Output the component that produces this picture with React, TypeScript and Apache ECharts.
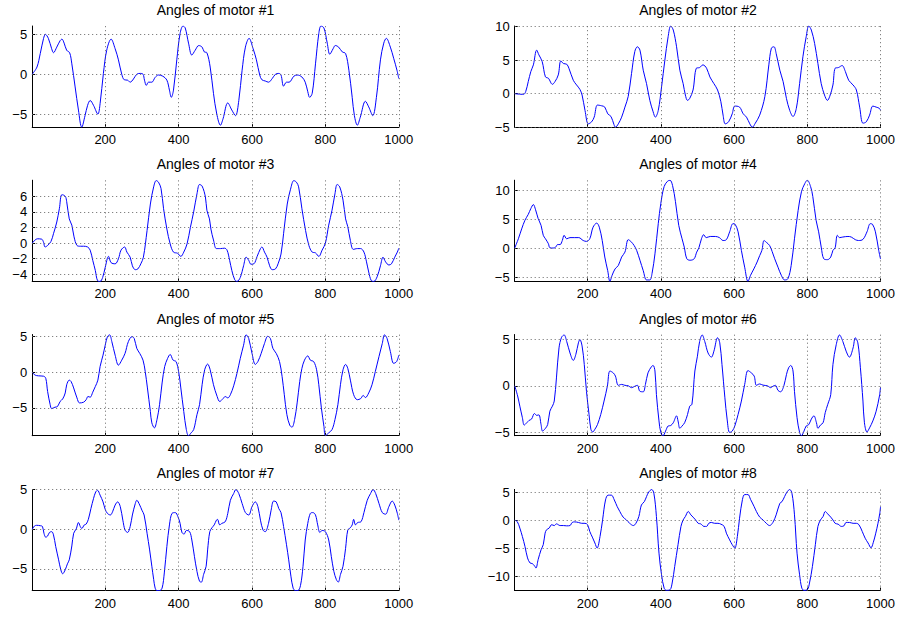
import React, { useEffect, useRef } from "react";
import * as echarts from "echarts";

const titles = [
  "Angles of motor #1", "Angles of motor #2", "Angles of motor #3", "Angles of motor #4",
  "Angles of motor #5", "Angles of motor #6", "Angles of motor #7", "Angles of motor #8",
];

const xTicks = [200, 400, 600, 800, 1000];

const yTicks = [
  [-5, 0, 5], [-5, 0, 5, 10], [-4, -2, 0, 2, 4, 6], [-5, 0, 5, 10],
  [-5, 0, 5], [-5, 0, 5], [-5, 0, 5], [-10, -5, 0, 5],
];

const yMin = [-6.65, -5.0, -4.9, -5.75, -8.9, -5.4, -7.72, -12.5];
const yMax = [6.05, 10.1, 8.05, 11.7, 5.3, 5.55, 5.02, 5.47];

const motor1 = [[1,0],[14,0.9],[23,2.6],[32,4.5],[37,5.0],[45,4.5],[54,3.2],[59,2.7],[68,3.4],[77,4.2],[82,4.4],[88,3.9],[95,3.0],[103,2.7],[109,1.3],[118,-1.6],[127,-4.5],[136,-6.65],[145,-5.2],[152,-3.9],[159,-3.3],[168,-3.9],[180,-5.0],[186,-3.7],[195,0.1],[204,3.0],[216,4.4],[227,3.2],[236,1.8],[245,0],[252,-0.7],[261,-0.75],[268,-1.0],[277,-0.6],[286,0],[295,0.1],[303,0],[307,-0.75],[312,-1.4],[318,-1.0],[327,-1.0],[336,-0.4],[345,-0.1],[357,-0.25],[368,-0.75],[375,-2.0],[380,-2.9],[386,-2.0],[395,1.8],[404,5.1],[412,6.05],[418,5.8],[427,3.9],[436,2.4],[445,3.0],[455,3.6],[464,3.4],[470,2.8],[477,2.7],[486,0.9],[495,-2.4],[504,-5.0],[514,-6.4],[521,-5.6],[534,-3.6],[545,-4.5],[555,-5.2],[564,-3.3],[573,0.5],[582,3.4],[592,4.5],[603,3.2],[612,1.8],[621,-0.1],[627,-0.7],[636,-0.85],[645,-1.0],[655,-0.55],[664,0],[673,0.1],[679,-0.1],[686,-1.5],[694,-1.0],[701,-1.0],[714,-0.25],[723,-0.1],[736,-0.35],[745,-1.0],[752,-2.2],[757,-2.9],[764,-2.4],[773,1.3],[782,5.1],[788,6.05],[796,5.8],[805,3.9],[812,2.5],[821,3.2],[827,3.6],[836,3.4],[846,2.8],[855,2.6],[864,0.5],[873,-2.9],[879,-5.2],[887,-6.4],[895,-5.4],[909,-3.4],[918,-4.1],[929,-5.2],[939,-2.9],[950,1.8],[959,3.9],[966,4.5],[977,3.4],[986,2.0],[995,0.5],[1000,-0.55]];

const motor2 = [[1,0],[25,-0.1],[31,0.3],[38,1.8],[45,3.3],[52,4.3],[61,6.5],[67,5.8],[76,4.8],[85,2.5],[93,2.3],[104,1.4],[111,1.8],[120,2.8],[127,4.9],[134,4.5],[143,4.4],[149,3.8],[161,2.0],[170,1.3],[179,0.65],[185,-0.2],[193,-2.5],[202,-4.5],[211,-4.2],[218,-3.5],[227,-1.7],[238,-1.8],[247,-2.0],[255,-3.0],[264,-3.4],[272,-4.6],[276,-5.0],[284,-4.5],[293,-3.5],[302,-2.0],[311,-0.4],[320,3.0],[329,6.3],[336,7.0],[343,6.5],[352,3.5],[361,1.5],[370,-1.0],[379,-2.7],[385,-3.5],[393,-2.5],[402,1.0],[411,5.0],[420,8.5],[427,10.1],[434,9.5],[443,7.0],[452,3.5],[461,1.5],[467,-0.2],[473,-1.0],[479,-0.7],[488,0.55],[497,3.8],[506,3.9],[515,4.3],[525,3.8],[534,2.5],[545,1.5],[555,0.55],[564,-1.2],[570,-3.2],[576,-4.5],[585,-4.2],[595,-3.0],[602,-1.85],[615,-2.0],[625,-3.0],[634,-3.5],[643,-4.5],[650,-5.0],[658,-4.4],[670,-3.2],[684,-0.45],[695,4.3],[702,6.8],[709,7.0],[715,6.0],[725,3.5],[734,1.8],[743,-0.7],[752,-2.5],[761,-3.4],[770,-2.2],[779,1.5],[788,5.5],[797,8.5],[804,10.1],[811,9.5],[820,7.5],[829,4.5],[838,1.5],[847,-0.2],[855,-1.0],[861,-0.45],[870,1.3],[876,3.8],[885,3.9],[895,4.2],[904,3.3],[913,2.0],[925,1.3],[934,0.55],[943,-2.0],[952,-4.4],[961,-4.2],[970,-3.2],[979,-1.85],[988,-2.0],[997,-2.2],[1000,-2.5]];

const motor3 = [[1,0],[9,0.4],[15,0.55],[27,0.5],[32,0.1],[36,-0.5],[43,-0.3],[52,0.2],[59,1.2],[68,2.7],[75,4.4],[82,6.2],[91,6.0],[95,5.3],[102,3.1],[109,2.3],[115,0.8],[123,-0.3],[132,-0.4],[141,-0.4],[152,-0.5],[159,-0.9],[166,-2.2],[173,-3.5],[179,-4.8],[186,-4.9],[193,-4.4],[200,-3.1],[209,-1.7],[216,-2.5],[227,-2.65],[236,-2.0],[243,-0.9],[253,-0.5],[259,-1.15],[268,-1.8],[274,-2.9],[282,-3.4],[289,-3.3],[297,-2.65],[304,-1.8],[314,1.6],[323,5.0],[332,7.2],[339,8.0],[345,7.8],[352,7.0],[359,4.4],[368,1.8],[377,-0.1],[386,-1.15],[397,-1.3],[406,-1.7],[414,-1.15],[423,-0.1],[432,2.0],[441,4.0],[450,6.3],[457,7.5],[464,7.3],[473,5.9],[477,4.2],[484,3.1],[488,1.8],[495,0.4],[503,-0.7],[514,-0.7],[525,-0.65],[532,-0.9],[539,-2.2],[545,-3.5],[553,-4.7],[559,-4.9],[568,-4.4],[577,-2.9],[584,-1.8],[591,-2.2],[597,-2.7],[605,-2.65],[614,-1.7],[623,-0.7],[627,-0.5],[634,-1.15],[641,-1.8],[648,-2.9],[655,-3.4],[664,-3.3],[671,-2.65],[679,-1.4],[686,1.2],[696,5.0],[705,6.9],[714,8.0],[721,7.8],[727,7.2],[736,4.4],[746,1.6],[755,-0.3],[764,-1.15],[773,-1.25],[782,-1.7],[791,-0.9],[800,0],[809,2.3],[818,4.2],[826,6.3],[832,7.5],[839,7.2],[848,5.5],[855,3.1],[861,2.1],[868,0.35],[876,-0.8],[887,-0.7],[896,-0.7],[905,-1.15],[912,-2.4],[918,-3.7],[925,-4.8],[932,-4.9],[941,-4.3],[950,-2.9],[957,-1.8],[964,-2.4],[973,-2.8],[980,-2.65],[989,-1.8],[996,-1.15],[1000,-0.65]];

const motor4 = [[1,0],[11,1.6],[20,3.3],[29,4.8],[38,5.8],[45,6.8],[52,7.5],[58,6.6],[65,5.1],[73,3.9],[79,2.2],[85,1.6],[93,0.75],[97,0.05],[106,0],[113,0.17],[118,0.6],[125,0.6],[131,1.3],[136,2.2],[143,1.6],[152,1.8],[165,1.8],[176,1.8],[188,1.3],[197,1.15],[206,1.6],[215,3.6],[225,4.3],[232,3.6],[240,1.3],[247,-1.55],[255,-3.9],[261,-5.75],[267,-4.7],[275,-3.6],[284,-3.0],[293,-1.55],[302,-0.7],[311,1.45],[318,1.15],[327,0.45],[334,-0.4],[343,-2.1],[352,-3.9],[361,-5.5],[370,-5.5],[376,-4.4],[384,-1.0],[393,4.2],[400,7.7],[409,10.6],[418,11.5],[425,11.7],[432,10.8],[440,8.0],[449,3.9],[458,1.6],[464,0.17],[471,-1.85],[480,-2.1],[491,-1.85],[498,-0.7],[504,0.05],[511,1.6],[517,2.3],[524,1.8],[535,2.0],[549,2.0],[560,1.8],[570,1.3],[579,1.45],[588,2.8],[597,4.2],[603,4.1],[611,2.8],[620,-0.4],[629,-3.3],[638,-5.75],[645,-4.7],[654,-3.6],[663,-2.4],[670,-1.3],[676,-0.4],[682,1.3],[688,1.0],[697,0.45],[704,-0.6],[711,-1.85],[720,-3.3],[729,-4.7],[738,-5.5],[747,-5.3],[756,-3.0],[765,1.6],[775,6.5],[784,9.7],[793,11.1],[800,11.7],[809,10.6],[815,8.9],[824,4.8],[831,2.8],[838,0.17],[845,-1.85],[855,-2.0],[864,-1.55],[870,-0.4],[876,0.05],[882,2.2],[888,1.8],[897,1.9],[911,2.0],[920,1.9],[931,1.45],[940,1.3],[952,1.5],[963,2.8],[972,4.2],[978,4.1],[986,2.8],[995,-0.4],[1000,-1.9]];

const motor5 = [[1,0],[9,-0.4],[18,-0.5],[32,-0.55],[38,-0.85],[43,-2.7],[50,-4.55],[54,-5.1],[63,-4.9],[70,-4.8],[77,-4.1],[84,-3.75],[91,-2.9],[95,-1.75],[102,-1.1],[107,-1.3],[114,-2.2],[123,-3.6],[130,-4.3],[141,-4.2],[148,-3.85],[153,-3.4],[159,-3.5],[166,-2.8],[173,-2.0],[180,-1.1],[186,0.8],[194,2.4],[200,3.8],[206,5.0],[212,5.25],[218,4.3],[227,2.4],[236,1.0],[245,1.7],[254,2.65],[263,4.3],[273,5.0],[279,4.75],[286,3.35],[294,2.65],[303,1.7],[309,0.1],[315,-2.2],[323,-5.5],[327,-7.1],[334,-7.8],[341,-6.65],[348,-4.55],[355,-1.5],[362,0.8],[370,1.95],[377,2.5],[385,1.7],[393,1.5],[400,0.1],[406,-2.2],[414,-5.5],[421,-8.05],[427,-8.9],[434,-8.5],[441,-8.05],[450,-5.95],[457,-4.55],[464,-1.75],[471,0.35],[479,1.15],[486,0.35],[495,-1.75],[505,-3.4],[512,-4.1],[521,-3.7],[527,-3.4],[534,-3.6],[541,-3.15],[550,-1.9],[559,-0.15],[568,1.95],[577,3.8],[584,5.25],[591,4.75],[600,2.65],[609,1.1],[616,1.5],[625,2.65],[634,4.05],[643,5.05],[650,4.75],[657,3.35],[666,2.65],[675,1.5],[682,-0.6],[688,-3.15],[695,-5.95],[703,-7.45],[709,-7.7],[716,-6.65],[723,-4.3],[730,-1.3],[736,0.55],[743,1.7],[752,2.3],[759,1.7],[768,1.5],[776,0.35],[782,-1.75],[789,-5.0],[796,-7.6],[800,-8.9],[809,-8.5],[818,-8.05],[826,-6.65],[834,-4.55],[841,-1.75],[848,0.35],[855,1.1],[861,0.55],[868,-1.1],[877,-3.15],[887,-3.85],[896,-3.7],[903,-3.25],[909,-3.55],[918,-2.9],[927,-1.75],[936,0.1],[946,2.2],[955,4.05],[961,5.25],[968,4.75],[977,2.9],[986,1.25],[994,1.5],[1000,2.4]];

const motor6 = [[1,0],[9,-1.1],[15,-2.2],[22,-3.45],[27,-4.25],[34,-4.0],[40,-3.75],[47,-3.6],[55,-3.0],[61,-3.2],[67,-3.15],[73,-4.2],[77,-4.9],[84,-4.65],[91,-4.2],[97,-2.75],[104,-2.2],[109,-1.65],[115,0.85],[122,4.1],[129,5.25],[136,5.5],[143,4.8],[152,3.55],[161,2.75],[168,3.4],[175,4.65],[179,5.0],[185,4.3],[191,2.3],[197,-0.6],[204,-3.1],[209,-4.7],[214,-5.0],[220,-4.7],[227,-4.2],[236,-3.1],[245,-1.65],[254,-0.05],[261,1.6],[270,1.4],[276,1.05],[284,0.05],[293,0.15],[302,0.05],[311,0],[320,-0.2],[329,-0.05],[336,0.05],[343,-0.6],[352,-0.65],[358,0.15],[365,1.4],[375,2.1],[379,2.2],[384,1.6],[388,-0.95],[395,-3.8],[400,-5.05],[406,-5.4],[413,-4.9],[420,-4.35],[427,-4.3],[434,-4.0],[443,-3.25],[447,-3.8],[452,-4.6],[458,-4.35],[465,-4.0],[473,-3.1],[479,-2.2],[485,-2.0],[493,1.6],[500,3.2],[506,4.8],[513,5.5],[520,4.8],[529,3.55],[538,3.1],[545,3.75],[555,5.2],[561,4.65],[567,2.3],[575,-1.3],[581,-3.6],[588,-5.05],[595,-4.9],[602,-4.35],[611,-3.1],[620,-1.65],[629,0.15],[638,1.65],[647,1.4],[655,1.05],[661,0.05],[670,0.2],[679,0.07],[691,0],[700,-0.2],[706,-0.05],[713,0.05],[720,-0.5],[727,-0.65],[736,0],[743,1.2],[749,1.95],[755,2.2],[761,1.6],[765,-0.6],[772,-3.45],[779,-5.05],[784,-5.4],[791,-4.9],[797,-4.35],[804,-4.2],[811,-3.6],[818,-3.25],[825,-4.0],[829,-4.6],[836,-4.25],[843,-4.0],[849,-2.9],[856,-2.0],[864,-0.95],[870,2.3],[879,4.45],[888,5.5],[897,4.8],[906,3.75],[915,3.1],[925,4.1],[931,5.2],[938,4.65],[945,1.95],[952,-1.65],[956,-4.0],[963,-5.0],[970,-4.55],[979,-3.8],[988,-2.75],[997,-1.1],[1000,-0.15]];

const motor7 = [[1,0],[7,0.4],[13,0.5],[23,0.45],[29,0.35],[33,-0.5],[38,-1.0],[43,-0.85],[48,-0.4],[54,-0.3],[59,-0.7],[65,-2.15],[73,-3.85],[79,-5.1],[84,-5.6],[91,-5.1],[97,-4.35],[102,-3.85],[109,-2.1],[114,-0.5],[121,0.05],[127,0.85],[132,0.35],[136,0.1],[143,0.55],[148,0.65],[154,1.25],[161,2.6],[168,3.85],[174,4.7],[179,4.9],[186,4.3],[194,3.45],[200,2.5],[206,2.0],[214,1.8],[220,2.2],[227,3.05],[234,3.45],[241,2.85],[248,1.15],[254,-0.1],[261,-0.4],[268,0.35],[274,1.8],[282,3.25],[286,3.65],[294,3.05],[300,2.4],[306,1.8],[314,-0.5],[321,-2.6],[327,-4.65],[332,-6.3],[336,-7.4],[341,-7.72],[348,-7.72],[355,-7.4],[361,-5.5],[368,-2.15],[375,0.55],[382,2.0],[391,2.1],[398,1.6],[404,0.75],[409,-0.4],[415,-0.6],[421,-0.15],[430,-0.3],[436,-1.35],[443,-3.4],[450,-5.3],[457,-6.55],[462,-6.65],[468,-5.7],[475,-4.65],[479,-2.6],[485,-0.3],[491,0.2],[497,0.55],[503,1.15],[506,1.25],[512,0.55],[518,0.75],[527,0.95],[534,2.0],[541,3.65],[550,4.5],[556,5.0],[564,4.5],[573,3.25],[582,2.1],[591,1.8],[600,2.85],[609,3.45],[616,2.85],[623,1.15],[630,-0.1],[636,-0.3],[645,0.75],[652,2.4],[659,3.55],[666,3.45],[673,2.6],[679,2.1],[686,0.35],[694,-1.95],[700,-3.85],[706,-5.9],[712,-7.4],[718,-7.72],[725,-7.72],[732,-7.1],[739,-4.65],[745,-1.35],[752,0.75],[759,2.0],[766,2.1],[773,1.8],[779,0.55],[785,-0.4],[791,-0.15],[800,-0.3],[809,-1.35],[816,-3.4],[823,-5.3],[830,-6.35],[835,-6.65],[841,-5.7],[848,-4.65],[855,-2.4],[861,-0.1],[868,0.2],[873,0.55],[877,1.25],[882,0.55],[888,0.85],[897,0.95],[905,2.1],[914,3.65],[923,4.5],[930,5.0],[937,4.5],[946,3.25],[955,2.1],[964,1.9],[973,2.85],[982,3.55],[989,3.05],[996,2.0],[1000,1.15]];

const motor8 = [[1,0],[8,-0.25],[15,-1.4],[22,-2.9],[29,-4.65],[36,-6.7],[43,-7.6],[49,-7.7],[55,-8.1],[59,-8.5],[65,-7.0],[73,-5.25],[79,-4.35],[84,-2.3],[88,-1.7],[95,-1.4],[102,-0.8],[109,-0.95],[115,-0.65],[125,-0.95],[134,-0.95],[143,-1.0],[152,-0.95],[158,-0.4],[165,-0.3],[175,-0.4],[184,-0.55],[193,-0.55],[200,-0.8],[206,-2.0],[213,-3.0],[220,-4.05],[226,-4.95],[234,-2.9],[241,0.05],[249,3.6],[256,4.45],[265,4.45],[273,3.6],[281,2.4],[288,1.55],[297,0.55],[306,0.05],[315,-0.55],[325,-0.95],[332,-0.55],[340,0.65],[347,2.7],[355,3.3],[361,4.2],[367,5.0],[375,5.45],[381,4.8],[388,0.65],[395,-5.85],[402,-9.7],[409,-12.05],[415,-12.45],[425,-12.35],[431,-11.15],[438,-8.2],[447,-4.35],[455,-1.1],[461,0.05],[467,0.65],[475,1.55],[482,0.95],[488,0.55],[495,0.05],[502,-0.55],[509,-0.65],[518,-1.1],[525,-1.1],[531,-0.55],[538,-0.4],[547,-0.55],[556,-0.55],[564,-0.7],[573,-1.1],[579,-2.3],[588,-3.5],[595,-4.35],[602,-4.95],[609,-2.9],[615,0.35],[623,3.7],[629,4.55],[638,4.55],[645,3.7],[655,2.4],[661,1.55],[670,0.55],[679,0.05],[688,-0.55],[697,-0.95],[706,-0.4],[715,0.95],[725,3.0],[731,3.3],[738,4.2],[745,5.05],[752,5.45],[758,4.8],[765,0.95],[772,-5.85],[779,-9.7],[785,-12.05],[791,-12.45],[800,-12.35],[806,-11.15],[814,-8.2],[822,-4.35],[829,-1.1],[836,0.05],[843,0.65],[849,1.55],[856,1.1],[864,0.55],[870,0.05],[876,-0.55],[884,-0.7],[893,-1.1],[900,-1.0],[906,-0.4],[915,-0.4],[925,-0.55],[934,-0.55],[941,-0.8],[950,-2.0],[958,-3.2],[966,-4.05],[974,-4.9],[980,-4.0],[987,-2.3],[993,-0.55],[998,1.25],[1000,2.4]];

const motors = [motor1, motor2, motor3, motor4, motor5, motor6, motor7, motor8];

const FONT = "'Liberation Sans', Arial, Helvetica, sans-serif";
const colLeft = [32.2, 514.7];
const rowTop = [26, 180.2, 334.5, 489.4];
const plotW = 366.6;
const plotH = 101.2;

function fmt(v: number) {
  return String(v).replace("-", "\u2212");
}

export default function App() {
  const ref = useRef<HTMLDivElement>(null);
  useEffect(() => {
    if (!ref.current) return;
    const chart = echarts.init(ref.current, undefined, { renderer: "svg" });
    const grid: any[] = [];
    const xAxis: any[] = [];
    const yAxis: any[] = [];
    const series: any[] = [];
    const graphic: any[] = [];
    motors.forEach((data, i) => {
      const col = i % 2;
      const row = Math.floor(i / 2);
      const left = colLeft[col];
      const top = rowTop[row];
      grid.push({ left, top, width: plotW, height: plotH, containLabel: false });
      xAxis.push({
        type: "value",
        gridIndex: i,
        min: 1,
        max: 1000,
        axisLine: { show: true, onZero: false, lineStyle: { color: "#000", width: 1 } },
        axisTick: { show: true, inside: true, length: 3, customValues: xTicks, lineStyle: { color: "#000", width: 1 } },
        axisLabel: {
          customValues: xTicks,
          color: "#000",
          fontSize: 13,
          fontFamily: FONT,
          margin: 6,
          showMinLabel: true,
          showMaxLabel: true,
          formatter: (v: number) => fmt(v),
        },
        splitLine: { show: false },
      });
      yAxis.push({
        type: "value",
        gridIndex: i,
        min: yMin[i],
        max: yMax[i],
        axisLine: { show: true, onZero: false, lineStyle: { color: "#000", width: 1 } },
        axisTick: { show: true, inside: true, length: 3, customValues: yTicks[i], lineStyle: { color: "#000", width: 1 } },
        axisLabel: {
          customValues: yTicks[i],
          color: "#000",
          fontSize: 13,
          fontFamily: FONT,
          margin: 5,
          showMinLabel: true,
          showMaxLabel: true,
          formatter: (v: number) => fmt(v),
        },
        splitLine: { show: false },
      });
      series.push({
        type: "line",
        xAxisIndex: i,
        yAxisIndex: i,
        data,
        showSymbol: false,
        symbol: "none",
        smooth: 0.35,
        lineStyle: { color: "#0000ff", width: 1 },
        markLine: {
          silent: true,
          symbol: ["none", "none"],
          label: { show: false },
          lineStyle: { type: [1, 3], color: "#666", width: 1 },
          emphasis: { disabled: true },
          data: [
            ...xTicks.map((v) => ({ xAxis: v })),
            ...yTicks[i].map((v) => ({ yAxis: v })),
          ],
        },
      });
      graphic.push({
        type: "text",
        left: undefined,
        x: left + plotW / 2,
        y: top - 16,
        style: {
          text: titles[i],
          fill: "#000",
          font: `14px ${FONT}`,
          textAlign: "center",
          textVerticalAlign: "middle",
        },
      });
    });
    chart.setOption({
      animation: false,
      backgroundColor: "#fff",
      grid,
      xAxis,
      yAxis,
      series,
      graphic,
    });
    return () => chart.dispose();
  }, []);
  return (
    <div
      ref={ref}
      style={{ position: "absolute", left: 0, top: 0, width: 898, height: 618 }}
    />
  );
}
